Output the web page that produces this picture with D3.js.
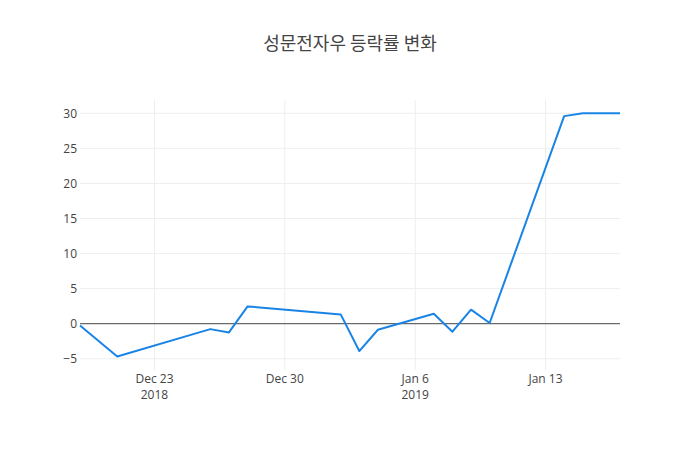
<!DOCTYPE html>
<html>
<head>
<meta charset="utf-8">
<script src="https://d3js.org/d3.v7.min.js"></script>
<style>
  body { margin: 0; background: #fff; }
  text { font-family: "Open Sans", "Noto Sans CJK KR", sans-serif; }
</style>
</head>
<body>
<div id="chart"></div>
<script>
// 성문전자우 daily change rate (%)
const dates = ["2018-12-19", "2018-12-21", "2018-12-26", "2018-12-27", "2018-12-28",
               "2019-01-02", "2019-01-03", "2019-01-04", "2019-01-07", "2019-01-08",
               "2019-01-09", "2019-01-10", "2019-01-14", "2019-01-15", "2019-01-16",
               "2019-01-17"];
const rates = [-0.25, -4.67, -0.77, -1.24, 2.47,
               1.33, -3.9, -0.86, 1.43, -1.14,
               2.0, 0.1, 29.6, 30.0, 30.0,
               30.0];
const xTicks = ["2018-12-23", "2018-12-30", "2019-01-06", "2019-01-13"];
const xTickLabels = [["Dec 23", "2018"], ["Dec 30"], ["Jan 6", "2019"], ["Jan 13"]];
const yTicks = [-5, 0, 5, 10, 15, 20, 25, 30];
const title = "성문전자우 등락률 변화";

const width = 700, height = 450;
const margin = {top: 100, right: 80, bottom: 80, left: 80};
const w = width - margin.left - margin.right;
const h = height - margin.top - margin.bottom;

const parse = d3.timeParse("%Y-%m-%d");
const data = dates.map((d, i) => ({date: parse(d), value: rates[i]}));

const svg = d3.select("#chart").append("svg")
    .attr("width", width)
    .attr("height", height);

svg.append("text")
    .attr("x", width / 2)
    .attr("y", 45)
    .attr("text-anchor", "middle")
    .attr("dominant-baseline", "middle")
    .style("font-size", "18px")
    .style("font-family", "'Noto Sans CJK KR', 'Open Sans', sans-serif")
    .attr("fill", "#444")
    .text(title);

const g = svg.append("g")
    .attr("transform", "translate(" + margin.left + "," + margin.top + ")");

const x = d3.scaleTime()
    .domain(d3.extent(data, d => d.date))
    .range([0, w]);

const y = d3.scaleLinear()
    .domain([-6.6, 31.9])
    .range([h, 0]);

// horizontal grid + y labels
g.append("g")
    .selectAll("line")
    .data(yTicks.filter(t => t !== 0))
    .enter().append("line")
    .attr("x1", 0).attr("x2", w)
    .attr("y1", d => y(d)).attr("y2", d => y(d))
    .attr("stroke", "#eee");

g.append("g")
    .selectAll("text")
    .data(yTicks)
    .enter().append("text")
    .attr("x", -3)
    .attr("y", d => y(d))
    .attr("dy", "0.35em")
    .attr("text-anchor", "end")
    .style("font-size", "12px")
    .attr("fill", "#444")
    .text(d => d < 0 ? "\u2212" + Math.abs(d) : d);

// vertical grid + x labels
const xt = xTicks.map(parse);
g.append("g")
    .selectAll("line")
    .data(xt)
    .enter().append("line")
    .attr("x1", d => x(d)).attr("x2", d => x(d))
    .attr("y1", 0).attr("y2", h)
    .attr("stroke", "#eee");

const xl = g.append("g")
    .selectAll("text")
    .data(xt)
    .enter().append("text")
    .attr("x", d => x(d))
    .attr("y", h + 9)
    .attr("text-anchor", "middle")
    .style("font-size", "12px")
    .attr("fill", "#444");

xl.each(function(d, i) {
    const t = d3.select(this);
    xTickLabels[i].forEach((s, j) => {
        t.append("tspan")
            .attr("x", x(d))
            .attr("dy", j === 0 ? "0.35em" : "1.3em")
            .text(s);
    });
});

// zero line
g.append("line")
    .attr("x1", 0).attr("x2", w)
    .attr("y1", y(0)).attr("y2", y(0))
    .attr("stroke", "#444")
    .attr("stroke-width", 1);

const line = d3.line()
    .x(d => x(d.date))
    .y(d => y(d.value));

g.append("path")
    .datum(data)
    .attr("d", line)
    .attr("fill", "none")
    .attr("stroke", "#1a84e6")
    .attr("stroke-width", 2)
    .attr("stroke-linejoin", "round");
</script>
</body>
</html>
